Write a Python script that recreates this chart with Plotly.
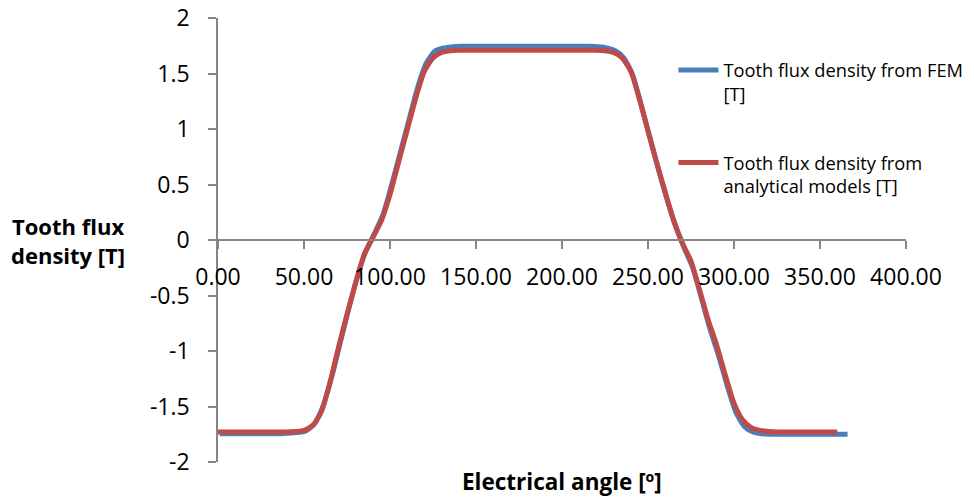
import plotly.graph_objects as go

# ---------------- data ----------------
fem_angle = [1, 6, 11, 16, 21, 26, 31, 36, 41, 46,
             51, 56, 61, 66, 71, 76, 81, 86, 91, 96, 101, 106, 111, 116, 121, 126, 131, 136,
             141, 146, 151, 156, 161, 166, 171, 176, 181, 186, 191, 196, 201, 206, 211, 216,
             221, 226, 231, 236, 241, 246, 251, 256, 261, 266, 271, 276, 281, 286, 291, 296, 301, 306, 311, 316,
             321, 326, 331, 336, 341, 346, 351, 356, 361, 366]
fem_b = [-1.745, -1.745, -1.745, -1.745, -1.745, -1.745, -1.745, -1.745, -1.74, -1.735,
         -1.72, -1.66, -1.50, -1.24, -0.93, -0.62, -0.33, -0.10, 0.06, 0.23, 0.50, 0.79, 1.08, 1.37, 1.59, 1.70, 1.73, 1.74,
         1.745, 1.745, 1.745, 1.745, 1.745, 1.745, 1.745, 1.745, 1.745, 1.745, 1.745, 1.745, 1.745, 1.745, 1.745, 1.745,
         1.74, 1.73, 1.705, 1.64, 1.49, 1.22, 0.93, 0.64, 0.37, 0.13, -0.07, -0.25, -0.52, -0.80, -1.04, -1.31, -1.55, -1.68, -1.73, -1.745,
         -1.75, -1.75, -1.75, -1.75, -1.75, -1.75, -1.75, -1.75, -1.75, -1.75]

ana_angle = [0, 5, 10, 15, 20, 25, 30, 35, 40, 45,
             50, 55, 60, 65, 70, 75, 80, 85, 90, 95, 100, 105, 110, 115, 120, 125, 130, 135,
             140, 145, 150, 155, 160, 165, 170, 175, 180, 185, 190, 195, 200, 205, 210, 215, 220,
             225, 230, 235, 240, 245, 250, 255, 260, 265, 270, 275, 280, 285, 290, 295, 300, 305, 310, 315, 320,
             325, 330, 335, 340, 345, 350, 355, 360]
ana_b = [-1.73, -1.73, -1.73, -1.73, -1.73, -1.73, -1.73, -1.73, -1.73, -1.725,
         -1.715, -1.67, -1.55, -1.29, -0.97, -0.67, -0.39, -0.13, 0.02, 0.175, 0.41, 0.70, 0.99, 1.28, 1.52, 1.64, 1.69, 1.705,
         1.71, 1.71, 1.71, 1.71, 1.71, 1.71, 1.71, 1.71, 1.71, 1.71, 1.71, 1.71, 1.71, 1.71, 1.71, 1.71, 1.71,
         1.705, 1.69, 1.64, 1.52, 1.27, 0.98, 0.70, 0.43, 0.17, -0.03, -0.19, -0.45, -0.72, -0.95, -1.22, -1.47, -1.62, -1.69, -1.715, -1.725,
         -1.73, -1.73, -1.73, -1.73, -1.73, -1.73, -1.73, -1.73]

x_ticks = [0, 50, 100, 150, 200, 250, 300, 350, 400]
x_tick_labels = ["0.00", "50.00", "100.00", "150.00", "200.00", "250.00", "300.00", "350.00", "400.00"]
y_ticks = [2, 1.5, 1, 0.5, 0, -0.5, -1, -1.5, -2]
y_tick_labels = ["2", "1.5", "1", "0.5", "0", "-0.5", "-1", "-1.5", "-2"]

name_fem = "Tooth flux density from FEM<br>[T]"
name_ana = "Tooth flux density from<br>analytical models [T]"

FONT = "Open Sans"
AXIS_COLOR = "#868686"

fig = go.Figure()
fig.add_trace(go.Scatter(x=fem_angle, y=fem_b, mode="lines", name=name_fem, legendgroup="a",
                         line=dict(color="#4A7EBB", width=5, shape="spline", smoothing=0.6)))
fig.add_trace(go.Scatter(x=ana_angle, y=ana_b, mode="lines", name=name_ana, legendgroup="b",
                         line=dict(color="#BE4B48", width=5, shape="spline", smoothing=0.6)))

fig.update_layout(
    width=974, height=503,
    margin=dict(l=210, r=76, t=10, b=49, autoexpand=False),
    paper_bgcolor="white", plot_bgcolor="white",
    font=dict(family=FONT, color="black", size=22),
    showlegend=True,
    legend=dict(x=0.662, xanchor="left", y=0.9245, yanchor="top",
                font=dict(family=FONT, size=18.3, color="black"),
                valign="top", tracegroupgap=42, itemwidth=40, bgcolor="rgba(0,0,0,0)"),
    xaxis=dict(range=[0, 400], tickmode="array", tickvals=x_ticks, ticktext=x_tick_labels,
               showgrid=False, zeroline=False, showline=True, linecolor=AXIS_COLOR, linewidth=1.5,
               ticks="outside", ticklen=8, tickcolor=AXIS_COLOR, tickwidth=1.5,
               anchor="free", position=0.5, ticklabelstandoff=9, automargin=False,
               ticklabeloverflow="allow",
               tickfont=dict(family=FONT, size=23)),
    yaxis=dict(range=[-2, 2], tickmode="array", tickvals=y_ticks, ticktext=y_tick_labels,
               showgrid=False, zeroline=False, showline=True, linecolor=AXIS_COLOR, linewidth=1.5,
               ticks="outside", ticklen=8, tickcolor=AXIS_COLOR, tickwidth=1.5,
               ticklabelstandoff=14, domain=[0, 1], automargin=False,
               ticklabeloverflow="allow",
               tickfont=dict(family=FONT, size=23)),
    annotations=[
        dict(text="<b>Electrical angle [º]</b>", xref="paper", yref="paper", x=0.5, y=-0.045,
             xanchor="center", yanchor="middle", showarrow=False, font=dict(family=FONT, size=22.5)),
        dict(text="<b>Tooth flux<br>density [T]</b>", xref="paper", yref="paper", x=-0.218, y=0.5,
             xanchor="center", yanchor="middle", showarrow=False, align="center",
             font=dict(family=FONT, size=22)),
    ],
)

fig.write_html("out.html")
